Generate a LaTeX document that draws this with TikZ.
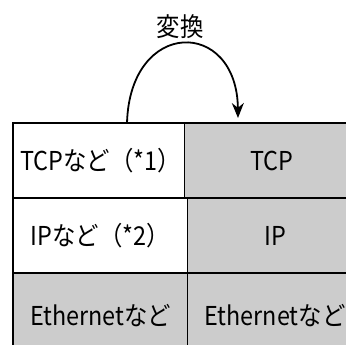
\documentclass[tikz,border=0pt]{standalone}
\usepackage{fontspec}
\setmainfont[FakeStretch=0.9]{Noto Sans CJK JP}
\usetikzlibrary{arrows.meta,positioning}
\tikzset{font=\fontsize{26}{30}\selectfont}
\tikzset{cell/.style={draw, line width=1.8pt, minimum width=175pt, minimum height=75pt, inner sep=0pt},
  greycell/.style={cell, fill=gray!40}}

\begin{document}
\begin{tikzpicture}[x=1pt,y=-1pt]
  \useasboundingbox (0,0) rectangle (346,345);
  \clip (0,0) rectangle (346,345);
  % original stack (left) and converted stack (right)
  \node[cell] (tcpa) at (100.5,160.5) {TCPなど（*1）};
  \node[cell] (ipa) at (100.5,235.5) {IPなど（*2）};
  \node[greycell, minimum height=85pt] (etha) at (100.5,315.5) {Ethernetなど};
  \node[greycell] (tcpb) at (272,160.5) {TCP};
  \node[greycell] (ipb) at (275,235.5) {IP};
  \node[greycell, minimum height=85pt] (ethb) at (275,315.5) {Ethernetなど};
  \coordinate (from) at (127,123);
  \coordinate (to) at (238,118);
  \draw[line width=1.8pt,-{Stealth[length=15pt,width=12pt]}] (from) .. controls (130,18) and (237,18) .. (to);
  \node (conv) at (180,27) {変換};
\end{tikzpicture}
\end{document}
